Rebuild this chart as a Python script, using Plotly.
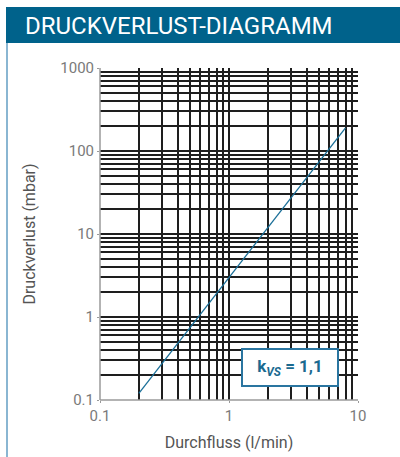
import plotly.graph_objects as go

# data
flow = [0.2, 8]            # Durchfluss (l/min)
pressure = [0.12, 190]     # Druckverlust (mbar)

x_ticks = [0.1, 1, 10]
x_ticktext = ["0.1", "1", "10"]
y_ticks = [0.1, 1, 10, 100, 1000]
y_ticktext = ["0.1", "1", "10", "100", "1000"]

teal = "#00628b"
line_col = "#1a6f98"
tick_col = "#7a7a7a"

W, H = 400, 457
L, R, T, B = 100, 42, 68, 57
pw, ph = W - L - R, H - T - B


def px(x):
    return (x - L) / pw


def py(y):
    return (H - B - y) / ph


fig = go.Figure()

fig.add_trace(
    go.Scatter(
        x=flow,
        y=pressure,
        mode="lines",
        line=dict(color=line_col, width=1.3),
        showlegend=False,
        hoverinfo="skip",
    )
)

axis_common = dict(
    type="log",
    automargin=False,
    showgrid=True,
    gridcolor="#1e1e1e",
    gridwidth=1.6,
    minor=dict(showgrid=True, gridcolor="#1e1e1e", gridwidth=1.5, dtick="D1", ticks=""),
    ticks="outside",
    ticklen=2,
    tickcolor="#999999",
    tickfont=dict(family="Roboto", size=15, color=tick_col),
    zeroline=False,
    showline=False,
)

fig.update_xaxes(
    **axis_common,
    range=[-1, 1],
    tickvals=x_ticks,
    ticktext=x_ticktext,
    title=dict(text="Durchfluss (l/min)", font=dict(family="Roboto", size=16, color="#555555"), standoff=12),
)
fig.update_yaxes(
    **axis_common,
    range=[-1, 3],
    tickvals=y_ticks,
    ticktext=y_ticktext,
    title=dict(text="Druckverlust (mbar)", font=dict(family="Roboto", size=16, color="#555555"), standoff=20),
)

# header bar, frame edges
fig.add_shape(type="rect", xref="paper", yref="paper",
              x0=px(6), x1=px(400), y0=py(43), y1=py(7),
              fillcolor=teal, line=dict(width=0), layer="above")
fig.add_shape(type="line", xref="paper", yref="paper",
              x0=px(7), x1=px(7), y0=py(43), y1=py(457),
              line=dict(color="#8ab6d2", width=2))
fig.add_shape(type="line", xref="paper", yref="paper",
              x0=0, x1=1, y0=0, y1=0, line=dict(color="#9a9a9a", width=1.5))
fig.add_shape(type="line", xref="paper", yref="paper",
              x0=0, x1=0, y0=0, y1=1, line=dict(color="#9a9a9a", width=1.5))

fig.add_annotation(
    xref="paper", yref="paper", x=px(23), y=py(26),
    xanchor="left", yanchor="middle", showarrow=False,
    text="DRUCKVERLUST-DIAGRAMM",
    font=dict(family="Roboto", size=24, color="white"),
)

fig.add_annotation(
    xref="paper", yref="paper", x=px(290), y=py(367),
    xanchor="center", yanchor="middle", showarrow=False,
    text="<b>k<sub><i>VS</i></sub> = 1,1</b>",
    font=dict(family="Roboto", size=17, color="#1a6a90"),
    bgcolor="white", bordercolor="#2a75a0", borderwidth=2,
    borderpad=6, width=82,
)

fig.update_layout(
    width=W,
    height=H,
    margin=dict(l=L, r=R, t=T, b=B),
    paper_bgcolor="white",
    plot_bgcolor="white",
)

# drop the default page margin so the figure sits at the window's corner
fig.write_html(
    "out.html",
    config={"displayModeBar": False},
    post_script="document.body.style.margin='0';",
)
